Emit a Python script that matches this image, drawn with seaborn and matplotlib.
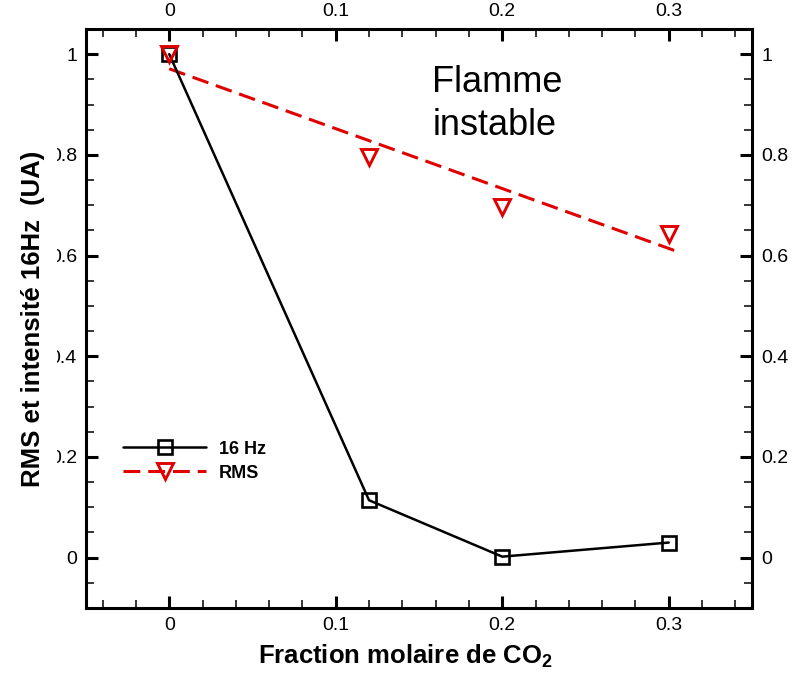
import matplotlib
matplotlib.use("Agg")
import matplotlib.pyplot as plt
from matplotlib.ticker import MultipleLocator, FuncFormatter
from matplotlib.lines import Line2D
from matplotlib.transforms import Bbox
import seaborn as sns
import pandas as pd

# ---- data ----
x_co2 = [0.0, 0.12, 0.2, 0.3]
hz16 = [1.0, 0.114, 0.002, 0.030]
rms = [1.0, 0.795, 0.697, 0.643]
# dashed trend line drawn through the RMS points (end points)
rms_fit_x = [0.0, 0.306]
rms_fit_y = [0.971, 0.607]

xticks = [0, 0.1, 0.2, 0.3]
yticks = [0, 0.2, 0.4, 0.6, 0.8, 1.0]

sns.set_style("white")
plt.rcParams["font.family"] = ["Liberation Sans", "DejaVu Sans"]
plt.rcParams["mathtext.fontset"] = "custom"
plt.rcParams["mathtext.bf"] = "Liberation Sans:bold"
plt.rcParams["mathtext.rm"] = "Liberation Sans"
for k in ["text.color", "axes.labelcolor", "xtick.color", "ytick.color",
          "axes.edgecolor"]:
    plt.rcParams[k] = "black"

W, H = 798, 673
fig = plt.figure(figsize=(W / 100, H / 100), dpi=100)
L, R, T, B = 86, 752, 29, 608
ax = fig.add_axes([L / W, 1 - B / H, (R - L) / W, (B - T) / H])

RED = "#e00000"
SQ_MS, TRI_MS = 10.5, 12.2
df_hz = pd.DataFrame({"x": x_co2, "y": hz16})
df_rms = pd.DataFrame({"x": x_co2, "y": rms})
df_fit = pd.DataFrame({"x": rms_fit_x, "y": rms_fit_y})

sns.lineplot(data=df_hz, x="x", y="y", ax=ax, color="black", linewidth=1.8,
             marker="s", markersize=SQ_MS, markerfacecolor="none",
             markeredgecolor="black", markeredgewidth=1.9, legend=False,
             zorder=3)
sns.lineplot(data=df_fit, x="x", y="y", ax=ax, color=RED, linewidth=2.2,
             dashes=False, legend=False, zorder=2)
ax.lines[-1].set_linestyle((0, (5.5, 2.6)))
sns.lineplot(data=df_rms, x="x", y="y", ax=ax, color=RED, linestyle="none",
             marker="v", markersize=TRI_MS, markerfacecolor="none",
             markeredgecolor=RED, markeredgewidth=2.1, legend=False, zorder=4)

ax.set_xlim(-0.05, 0.35)
ax.set_ylim(-0.1, 1.05)
ax.xaxis.set_major_locator(MultipleLocator(0.1))
ax.xaxis.set_minor_locator(MultipleLocator(0.02))
ax.yaxis.set_major_locator(MultipleLocator(0.2))
ax.yaxis.set_minor_locator(MultipleLocator(0.05))
fmt = FuncFormatter(lambda v, p: f"{v:g}" if abs(v) > 1e-9 else "0")
ax.xaxis.set_major_formatter(fmt)
ax.yaxis.set_major_formatter(fmt)

for s in ax.spines.values():
    s.set_linewidth(2.2)
    s.set_color("black")
ax.tick_params(which="both", direction="in", top=True, right=True,
               bottom=True, left=True, labeltop=True, labelright=True,
               colors="black")
ax.tick_params(which="major", length=8.6, width=2.2, labelsize=14, pad=6.5)
ax.tick_params(which="minor", length=5.5, width=1.1)

ax.set_xlabel("Fraction molaire de CO$_\\mathbf{2}$", fontsize=18.5,
              fontweight="bold")
ax.xaxis.set_label_coords((405.5 - L) / (R - L), (B - 642) / (B - T))
ax.set_ylabel("RMS et intensité 16Hz  (UA)", fontsize=18.5, fontweight="bold")
ax.yaxis.set_label_coords((45 - L) / (R - L), 0.5)

ax.text(0.1581, 0.924, "Flamme", fontsize=26, ha="left", va="baseline",
        color="black")
ax.text(0.1581, 0.8385, "instable", fontsize=26, ha="left", va="baseline",
        color="black")

handles = [
    Line2D([], [], color="black", linewidth=1.8, marker="s", markersize=SQ_MS,
           markerfacecolor="none", markeredgecolor="black",
           markeredgewidth=1.9),
    Line2D([], [], color=RED, linewidth=2.2, linestyle=(0, (5.5, 2.6)),
           marker="v", markersize=TRI_MS, markerfacecolor="none",
           markeredgecolor=RED, markeredgewidth=2.1),
]
leg = ax.legend(handles, ["16 Hz", "RMS"], loc="upper left",
                bbox_to_anchor=((123 - L) / (R - L), (B - 440.5) / (B - T)),
                frameon=False, borderaxespad=0, borderpad=0, numpoints=1,
                handlelength=4.6, handletextpad=0.7, labelspacing=0.4,
                prop={"size": 13, "weight": "bold"})

fig.canvas.draw()
clip = Bbox([[57, 0], [W, H]])
for lab in ax.get_yticklabels():
    lab.set_clip_on(True)
    lab.set_clip_box(clip)

fig.savefig("out.png", dpi=100)
